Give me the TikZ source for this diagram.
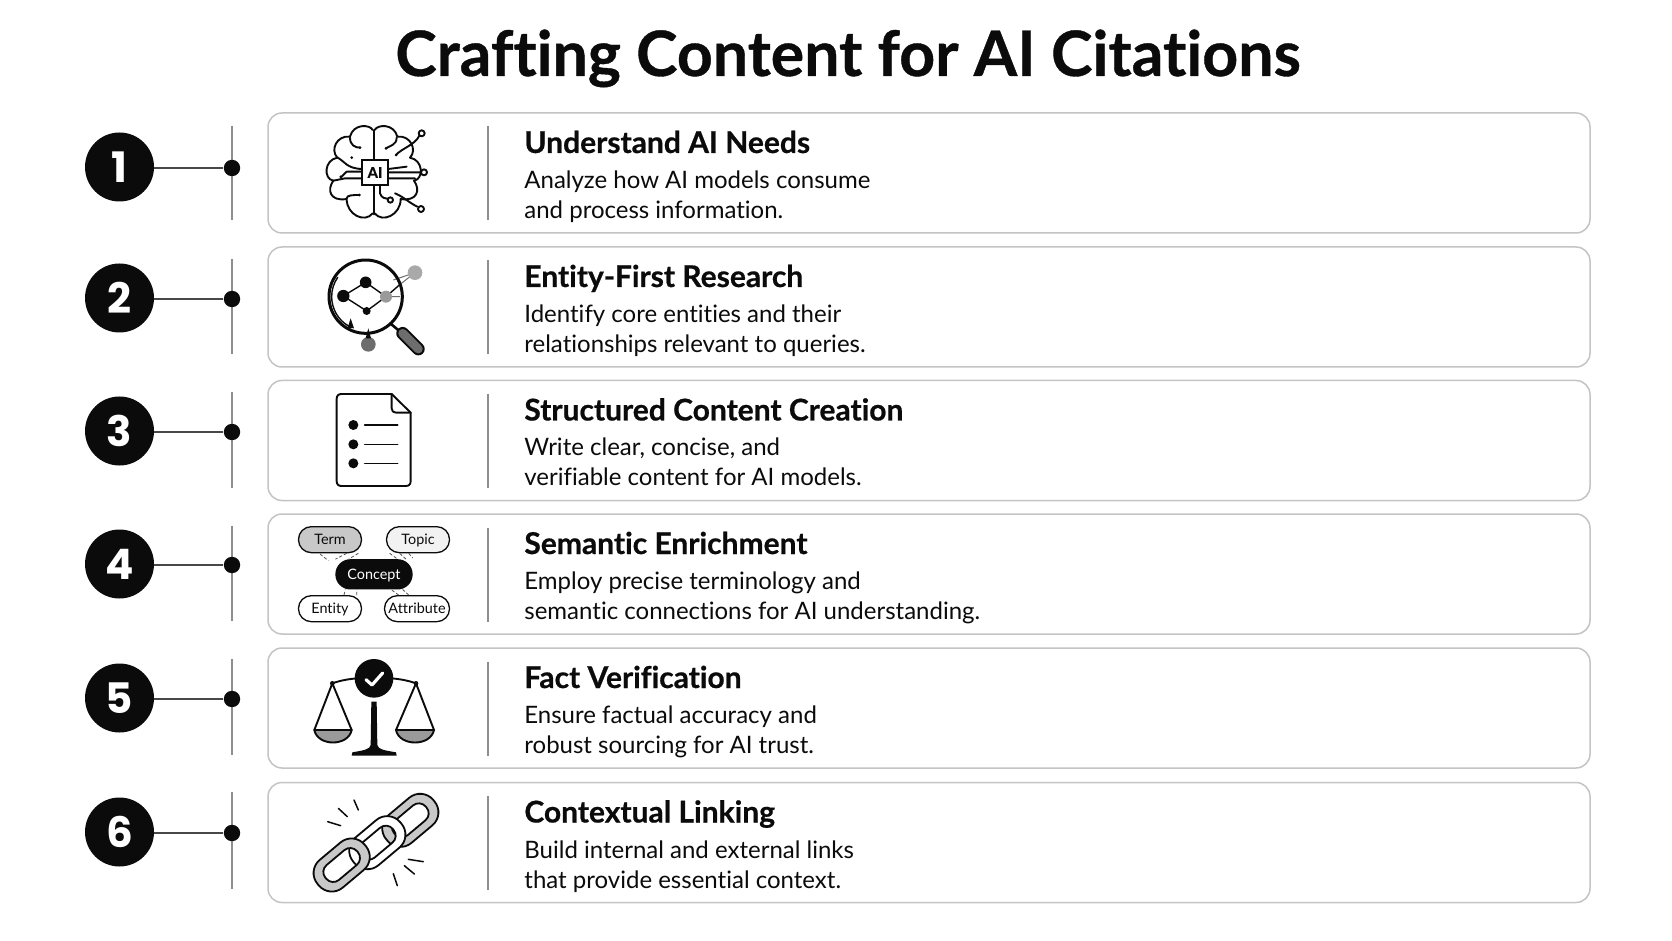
\documentclass[tikz,border=0pt]{standalone}
\usepackage{fontspec}
\setmainfont{Lato}[Ligatures=NoCommon,BoldFeatures={FakeBold=0.6}]
\newfontfamily\digitfont{Poppins}
\usetikzlibrary{calc}
\definecolor{ink}{HTML}{0B0B0B}
\definecolor{rulegray}{HTML}{8E8E8E}
\definecolor{cardedge}{HTML}{C4C4C4}
\definecolor{fillgray}{HTML}{C8C8C8}
\definecolor{pangray}{HTML}{9A9A9A}
\tikzset{
  x=0.5pt,y=-0.5pt,
  card/.style={draw=cardedge,line width=0.75pt,rounded corners=7pt,minimum width=661pt,minimum height=60pt,inner sep=0pt,fill=white},
  numdisc/.style={circle,fill=ink,text=white,minimum size=34.5pt,inner sep=0pt,font=\digitfont\fontsize{21}{21}\selectfont\bfseries},
  railDot/.style={circle,fill=ink,minimum size=8.2pt,inner sep=0pt},
  railline/.style={draw=rulegray,line width=0.65pt},
  tie/.style={draw=ink!75,line width=0.6pt},
  headtext/.style={anchor=base west,inner sep=0pt,text=ink,font=\fontsize{15}{15}\selectfont\bfseries},
  bodytext/.style={anchor=base west,inner sep=0pt,text=ink,font=\fontsize{12}{12}\selectfont},
  icon/.style={draw=ink,line width=0.95pt,line cap=round,line join=round},
  pill/.style={draw=ink,line width=0.65pt,rounded corners=6.4pt,minimum height=13pt,inner sep=0pt,text=ink,text height=6pt,text depth=1.2pt,font=\fontsize{7.2}{7.2}\selectfont},
  dashlink/.style={draw=ink!70,line width=0.4pt,dash pattern=on 1.6pt off 1pt},
  link/.style={draw=ink,line width=0.9pt,even odd rule}
}
\newcommand{\brainhalf}{%
  \draw[icon] (218,45) .. controls (210,28) and (160,25) .. (150,65) .. controls (110,60) and (90,105) .. (112,128) .. controls (72,135) and (70,192) .. (100,197) .. controls (80,225) and (90,260) .. (140,252) .. controls (140,300) and (195,325) .. (218,295);
}
\begin{document}
\begin{tikzpicture}
\useasboundingbox (0,0) rectangle (1672,941);
\fill[white] (0,0) rectangle (1672,941);
\node[anchor=base,inner sep=0pt,text=ink,font=\fontsize{31.3}{31.3}\selectfont\bfseries] (title) at (848,76) {Crafting Content for AI Citations};

\foreach \i/\cy/\dy/\numy/\hd/\la/\lb in {
 1/173/168/167/{Understand AI Needs}/{Analyze how AI models consume}/{and process information.},
 2/307/299/298/{Entity-First Research}/{Identify core entities and their}/{relationships relevant to queries.},
 3/440.5/432/431/{Structured Content Creation}/{Write clear, concise, and}/{verifiable content for AI models.},
 4/574/565/564/{Semantic Enrichment}/{Employ precise terminology and}/{semantic connections for AI understanding.},
 5/708/699/698/{Fact Verification}/{Ensure factual accuracy and}/{robust sourcing for AI trust.},
 6/842.5/833/832/{Contextual Linking}/{Build internal and external links}/{that provide essential context.}}{
  \node[card] (card\i) at (929,\cy) {};
  \node[numdisc] (num\i) at (119.5,\numy) {\i};
  \coordinate (rt\i) at (232,{126+133.2*(\i-1)});
  \coordinate (rb\i) at (232,{220+133.8*(\i-1)});
  \draw[railline] (rt\i) -- (rb\i);
  \node[railDot] (dot\i) at (232,\dy) {};
  \draw[tie] (num\i.east |- dot\i) -- (dot\i);
  \coordinate (dt\i) at (488,\cy-46.5);
  \coordinate (db\i) at (488,\cy+47.5);
  \draw[railline] (dt\i) -- (db\i);
  \node[headtext] (head\i) at (524,\cy-20) {\hd};
  \node[bodytext] (la\i) at (524,\cy+15.5) {\la};
  \node[bodytext] (lb\i) at (524,\cy+45.5) {\lb};
}

% Icon 1: brain
\begin{scope}[shift={(300,115)},x=0.16667pt,y=-0.16667pt]
  \brainhalf
  \begin{scope}[xshift=73.67pt,xscale=-1]\brainhalf\end{scope}
  \draw[icon] (221,45) -- (221,135) (221,210) -- (221,298);
  \draw[icon] (150,68) .. controls (150,90) and (165,98) .. (180,98);
  \fill[ink] (180,98) circle (4.5) (155,128) circle (4.5) (178,240) circle (4.5) (122,185) circle (4);
  \draw[icon] (113,128) .. controls (135,140) and (140,160) .. (185,162);
  \draw[icon] (122,188) -- (140,170) -- (185,170);
  \draw[icon] (100,197) -- (135,190) -- (185,190);
  \draw[icon] (140,250) .. controls (140,240) and (160,240) .. (178,240);
  \draw[icon] (290,68) .. controls (290,90) and (270,92) .. (258,100);
  \fill[ink] (258,100) circle (4.5) (288,120) circle (4.5);
  \draw[icon] (288,120) .. controls (305,100) and (345,90) .. (358,62);
  \draw[icon] (265,162) -- (320,155) (265,172) -- (360,172) (265,190) -- (345,190);
  \draw[icon] (240,210) -- (240,235) .. controls (245,250) and (255,250) .. (265,252);
  \draw[icon] (285,235) .. controls (310,245) and (330,265) .. (352,275);
  \draw[icon,fill=white] (365,55) circle (9) (372,172) circle (9) (363,282) circle (9) (271,255) circle (8);
  \node[draw=ink,line width=0.95pt,fill=white,minimum width=13.3pt,minimum height=12.5pt,inner sep=0pt,text=ink,font=\fontsize{7.5}{7.5}\selectfont\bfseries] (chip) at (225,172.5) {AI};
\end{scope}

% Icon 2: magnifier
\begin{scope}[shift={(310,250)},x=0.16667pt,y=-0.16667pt]
  \draw[draw=ink!60,line width=0.5pt] (250,90) -- (315,68) (268,105) -- (315,68) (228,140) -- (270,140);
  \fill[pangray!85] (315,68) circle (22);
  \draw[icon,line width=1.5pt] (167,140) circle (110);
  \draw[ink,line width=0.7pt] (167,140) ++(120:102) arc (120:215:102);
  \draw[icon,line width=0.7pt] (100,138) -- (167,97) -- (228,140) -- (170,183) -- cycle;
  \draw[icon,line width=0.7pt] (228,140) -- (268,105);
  \fill[ink] (167,97) circle (17.5) (100,138) circle (18.5) (170,183) circle (12);
  \fill[pangray] (228,140) circle (18);
  \fill[ink] (113,233) -- (122,205) -- (132,235) -- cycle;
  \fill[ink!60] (175,283) circle (22);
  \fill[ink] (167,265) -- (175,235) -- (183,265) -- cycle;
  \draw[icon,line width=1.3pt] (243,222) -- (268,243);
  \draw[ink,line width=6.4pt,line cap=round] (278,250) -- (325,297);
  \draw[ink!60,line width=4.4pt,line cap=round] (278,250) -- (325,297);
\end{scope}

% Icon 3: document
\begin{scope}[shift={(270,380)},x=0.16667pt,y=-0.16667pt]
  \draw[icon] (365,42) -- (215,42) .. controls (205,42) and (200,47) .. (200,57) -- (200,303) .. controls (200,313) and (205,318) .. (215,318) -- (407,318) .. controls (417,318) and (422,313) .. (422,303) -- (422,98) -- cycle;
  \draw[icon] (365,42) -- (365,85) .. controls (365,93) and (370,98) .. (378,98) -- (422,98);
  \fill[ink] (250,135) circle (15) (250,193) circle (15) (250,250) circle (15);
  \draw[icon,line width=0.8pt] (284,135) -- (383,135) (284,193) -- (383,193) (284,250) -- (383,250);
\end{scope}

% Icon 4: concept map
\begin{scope}[shift={(270,380)},x=0.16667pt,y=-0.16667pt]
  \node[pill,fill=fillgray,minimum width=31.5pt] (term) at (180,479) {Term};
  \node[pill,fill=black!5,minimum width=31.5pt] (topic) at (444,479) {Topic};
  \node[pill,fill=ink,text=white,minimum width=38pt,minimum height=14.5pt,rounded corners=7.2pt] (concept) at (312,583) {Concept};
  \node[pill,fill=white,minimum width=31.5pt] (entity) at (180,686) {Entity};
  \node[pill,fill=white,minimum width=32.5pt] (attribute) at (441,686) {Attribute};
  \draw[dashlink] (term.south) ++(-30,2) -- ++(25,20);
  \draw[dashlink] (term.south) ++(50,0) -- (concept.north west);
  \draw[dashlink] (term.south) ++(85,0) -- ($(concept.north west)+(40,0)$);
  \draw[dashlink] (topic.south) ++(-85,0) -- ($(concept.north east)+(-45,0)$);
  \draw[dashlink] (topic.south) ++(-55,0) -- ($(concept.north east)+(-20,0)$);
  \draw[dashlink] (topic.south) ++(-28,0) -- ($(concept.north east)+(0,-4)$);
  \draw[dashlink] (entity.north) ++(42,0) -- ($(concept.south west)+(30,0)$);
  \draw[dashlink] (entity.north) ++(80,0) -- ($(concept.south west)+(65,0)$);
  \draw[dashlink] (attribute.north) ++(-55,0) -- ($(concept.south east)+(-65,0)$);
  \draw[dashlink] (attribute.north) ++(-25,0) -- ($(concept.south east)+(-30,0)$);
\end{scope}

% Icon 5: scales
\begin{scope}[shift={(270,645)},x=0.16667pt,y=-0.16667pt]
  \draw[icon] (187,115) .. controls (215,105) and (240,102) .. (260,100);
  \draw[icon] (438,115) .. controls (410,105) and (385,102) .. (365,100);
  \fill[ink] (312,100) circle (58);
  \draw[white,line width=1.6pt,line cap=round,line join=round] (288,104) -- (306,120) -- (338,84);
  \fill[ink] (304,170) -- (320,170) -- (322,300) .. controls (324,314) and (345,316) .. (378,322) -- (380,332) -- (245,332) -- (247,322) .. controls (280,316) and (300,314) .. (302,300) -- cycle;
  \foreach \ax/\lx/\rx in {187/133/245,438/378/492}{
    \path[fill=pangray] (\lx,255) .. controls (\lx+10,305) and (\rx-10,305) .. (\rx,255) -- cycle;
    \draw[icon] (\lx,255) .. controls (\lx+10,305) and (\rx-10,305) .. (\rx,255) -- cycle;
    \draw[icon] (\lx,255) -- (\ax,115) -- (\rx,255);
    \fill[ink] (\ax,115) circle (7);
  }
\end{scope}

% Icon 6: chain
\begin{scope}[shift={(270,645)},x=0.16667pt,y=-0.16667pt]
  \foreach \cx/\cy/\col in {421/526/fillgray,322/593/white,215/660/fillgray}{
    \begin{scope}[shift={(\cx,\cy)},rotate=40]
      \path[link,fill=\col] [rounded corners=8.5pt] (-92,-54) rectangle (92,54) [rounded corners=4.5pt] (-62,-29) rectangle (62,29);
    \end{scope}
  }
  \draw[icon,line width=0.75pt] (252,465) -- (265,495) (205,490) -- (232,515) (173,530) -- (212,542) (415,643) -- (460,650) (403,662) -- (433,687) (370,686) -- (382,722);
\end{scope}
\end{tikzpicture}
\end{document}
